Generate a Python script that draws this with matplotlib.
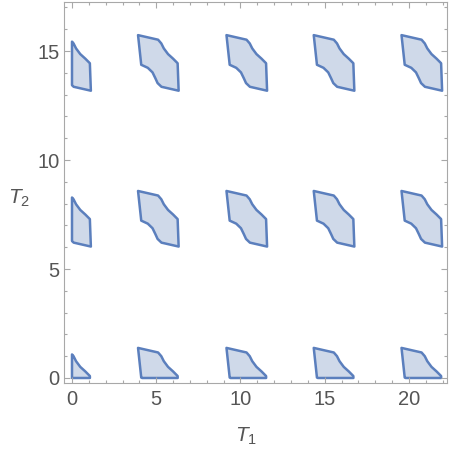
import matplotlib
matplotlib.use("Agg")
import matplotlib.pyplot as plt
from matplotlib.patches import Polygon
from matplotlib.ticker import MultipleLocator

plt.rcParams['font.family'] = ['Liberation Sans', 'DejaVu Sans']
plt.rcParams['mathtext.fontset'] = 'custom'
plt.rcParams['mathtext.rm'] = 'Liberation Sans'
plt.rcParams['mathtext.it'] = 'Liberation Sans:italic'

# Base region (column 1, row 1), boundary vertices
base_x = [3.92, 5.11, 5.30, 5.45, 5.70, 6.00, 6.27, 6.33, 5.31, 5.08, 4.95, 4.78, 4.50, 4.11]
base_y = [8.58, 8.37, 8.20, 7.97, 7.71, 7.50, 7.29, 6.03, 6.21, 6.38, 6.60, 6.87, 7.08, 7.22]
# Positions of the repeated regions
col_shift = [-5.21, 0.0, 5.25, 10.43, 15.64]
row_shift = [-7.2, 0.0, 7.15]

x_ticks = [0, 5, 10, 15, 20]
y_ticks = [0, 5, 10, 15]

FILL = '#cfd9e9'
EDGE = '#5b7fbd'
FRAME = '#a8a8a8'
TXT = '#555555'


def clip_half(pts, axis):
    """Clip polygon to coordinate[axis] >= 0 (Sutherland-Hodgman)."""
    out = []
    n = len(pts)
    for i in range(n):
        a = pts[i]
        b = pts[(i + 1) % n]
        ina = a[axis] >= 0
        inb = b[axis] >= 0
        if ina:
            out.append(a)
        if ina != inb:
            t = a[axis] / (a[axis] - b[axis])
            p = [a[0] + t * (b[0] - a[0]), a[1] + t * (b[1] - a[1])]
            p[axis] = 0.0
            out.append(tuple(p))
    return out


fig = plt.figure(figsize=(4.49, 4.50), dpi=100)
ax = fig.add_axes([64 / 449, 1 - 383 / 450, (447 - 64) / 449, (383 - 2) / 450])

for dx in col_shift:
    for dy in row_shift:
        pts = [(x + dx, y + dy) for x, y in zip(base_x, base_y)]
        pts = clip_half(pts, 0)
        pts = clip_half(pts, 1)
        if len(pts) < 3:
            continue
        ax.add_patch(Polygon(pts, closed=True, facecolor=FILL, edgecolor=EDGE,
                             linewidth=1.8, joinstyle='round'))

ax.set_xlim(-0.475, 22.26)
ax.set_ylim(-0.23, 17.25)
ax.set_xticks(x_ticks)
ax.set_yticks(y_ticks)
ax.xaxis.set_minor_locator(MultipleLocator(1))
ax.yaxis.set_minor_locator(MultipleLocator(1))
ax.tick_params(which='both', direction='in', top=True, right=True,
               color=FRAME, labelcolor=TXT, labelsize=14.5, width=0.8)
ax.tick_params(which='major', length=4.5)
ax.tick_params(which='minor', length=2.5)
ax.tick_params(axis='x', pad=5)
ax.tick_params(axis='y', pad=3)
for s in ax.spines.values():
    s.set_color(FRAME)
    s.set_linewidth(0.8)

fig.text(246 / 449, 1 - 436 / 450, r'$T_1$', ha='center', va='center',
         fontsize=15, color=TXT)
fig.text(19 / 449, 1 - 198 / 450, r'$T_2$', ha='center', va='center',
         fontsize=15, color=TXT)

fig.savefig('out.png', dpi=100)
